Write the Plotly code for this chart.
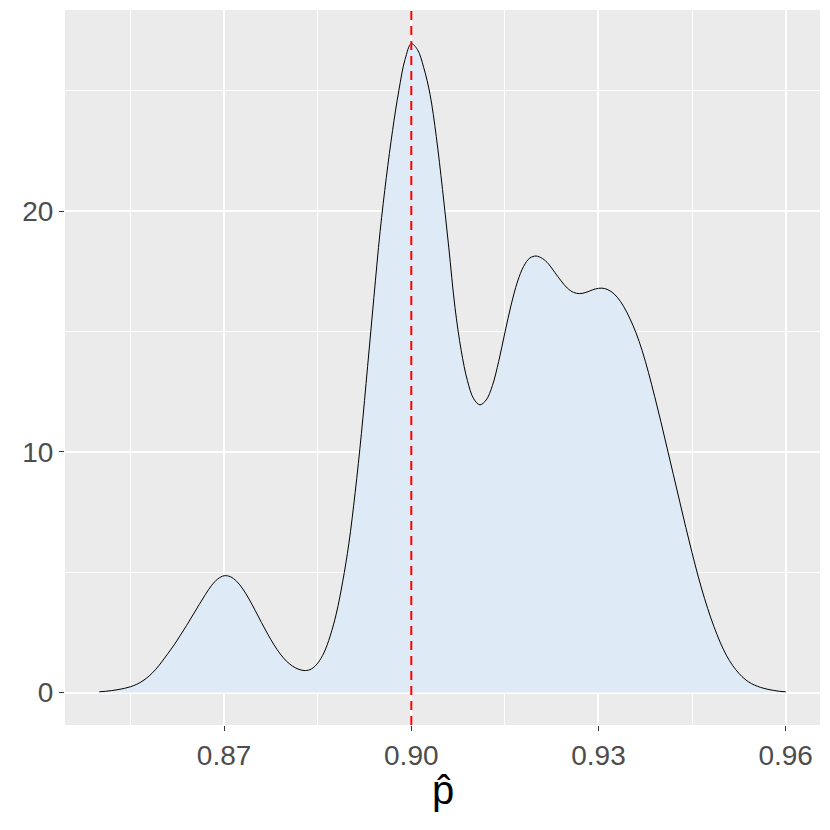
import plotly.graph_objects as go

# Density curve values (x step 0.001)
p_hat = [round(0.850 + 0.001 * i, 3) for i in range(111)]
density = [0.03, 0.05, 0.08, 0.12, 0.17, 0.24, 0.34, 0.49, 0.69, 0.95,
           1.27, 1.62, 1.98, 2.38, 2.79, 3.22, 3.65, 4.07, 4.45, 4.72,
           4.85, 4.81, 4.62, 4.30, 3.88, 3.40, 2.90, 2.42, 1.98, 1.60,
           1.30, 1.09, 0.96, 0.91, 0.98, 1.22, 1.65, 2.35, 3.30, 4.60,
           6.20, 8.30, 10.75, 13.55, 16.40, 19.15, 21.40, 23.35, 25.00, 26.30,
           26.95, 26.70, 25.95, 24.85, 23.10, 20.90, 18.50, 16.00, 14.20, 12.95,
           12.20, 11.95, 12.15, 12.75, 13.75, 14.95, 16.10, 17.05, 17.70, 18.05,
           18.13, 18.03, 17.80, 17.45, 17.10, 16.80, 16.62, 16.57, 16.62, 16.72,
           16.79, 16.78, 16.66, 16.42, 16.05, 15.55, 14.95, 14.20, 13.30, 12.30,
           11.25, 10.15, 9.05, 7.95, 6.85, 5.80, 4.80, 3.90, 3.10, 2.40,
           1.80, 1.32, 0.95, 0.66, 0.45, 0.31, 0.21, 0.14, 0.09, 0.05,
           0.03]

true_p = 0.90
x_ticks = [0.87, 0.90, 0.93, 0.96]
x_tick_labels = ["0.87", "0.90", "0.93", "0.96"]
y_ticks = [0, 10, 20]
y_tick_labels = ["0", "10", "20"]

fig = go.Figure()
fig.add_trace(go.Scatter(
    x=p_hat, y=density, mode="lines", fill="tozeroy",
    fillcolor="#DEEAF6",
    line=dict(color="black", width=1, shape="spline", smoothing=1.0),
    hoverinfo="skip", showlegend=False,
))
fig.add_shape(type="line", xref="x", yref="paper", x0=true_p, x1=true_p, y0=0, y1=1,
              line=dict(color="red", width=2, dash="9px,6px"))

font_family = "Liberation Sans, Arial, Helvetica, sans-serif"
fig.update_layout(
    width=830, height=830,
    margin=dict(l=65, r=10, t=10, b=105, autoexpand=False),
    paper_bgcolor="white", plot_bgcolor="#EBEBEB",
    font=dict(family=font_family),
    xaxis=dict(
        range=[0.8445, 0.9655], tickvals=x_ticks, ticktext=x_tick_labels,
        showgrid=True, gridcolor="white", gridwidth=2,
        minor=dict(showgrid=True, gridcolor="white", gridwidth=1, dtick=0.015, tick0=0.855),
        ticks="outside", ticklen=5, tickwidth=1, tickcolor="#333333",
        tickfont=dict(size=28, color="#4D4D4D", family=font_family),
        zeroline=False, showline=False, automargin=False,
    ),
    yaxis=dict(
        range=[-1.35, 28.35], tickvals=y_ticks, ticktext=y_tick_labels,
        showgrid=True, gridcolor="white", gridwidth=2,
        minor=dict(showgrid=True, gridcolor="white", gridwidth=1, dtick=5, tick0=5),
        ticks="outside", ticklen=5, tickwidth=1, tickcolor="#333333",
        tickfont=dict(size=28, color="#4D4D4D", family=font_family),
        zeroline=False, showline=False, automargin=False,
    ),
    annotations=[dict(
        text="p\u0302", xref="paper", yref="paper", x=0.5, y=-0.058,
        xanchor="center", yanchor="top", showarrow=False,
        font=dict(size=40, color="black", family=font_family),
    )],
)

fig.write_html("out.html", config={"displayModeBar": False},
               post_script="document.body.style.margin='0';")
